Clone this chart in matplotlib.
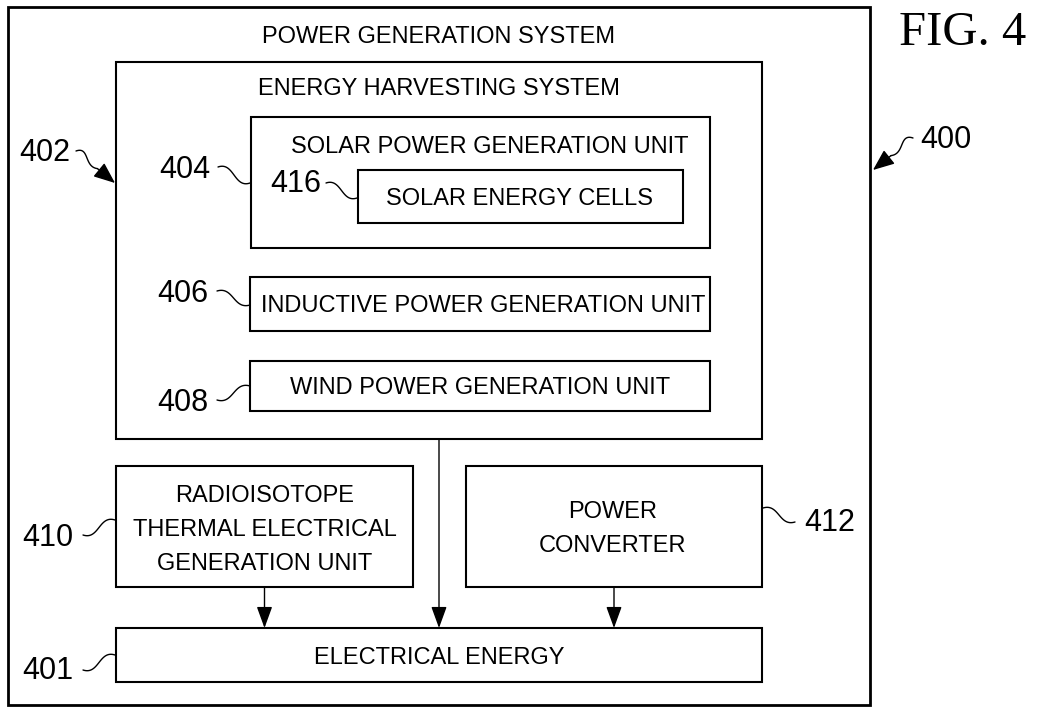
import matplotlib
matplotlib.use("Agg")
import numpy as np
import matplotlib.pyplot as plt
from matplotlib.patches import Rectangle
from matplotlib import font_manager

# ブロック図の中身（文字と符号）
box_names = ["outer", "harvest", "solar", "cells", "inductive", "wind", "rtg", "conv", "energy"]
box_texts = [
    ["POWER GENERATION SYSTEM"],
    ["ENERGY HARVESTING SYSTEM"],
    ["SOLAR POWER GENERATION UNIT"],
    ["SOLAR ENERGY CELLS"],
    ["INDUCTIVE POWER GENERATION UNIT"],
    ["WIND POWER GENERATION UNIT"],
    ["RADIOISOTOPE", "THERMAL ELECTRICAL", "GENERATION UNIT"],
    ["POWER", "CONVERTER"],
    ["ELECTRICAL ENERGY"],
]
ref_numbers = ["400", "402", "404", "416", "406", "408", "410", "412", "401"]
fig_label = "FIG. 4"

# レイアウト（ピクセル座標, 左上原点）
box_rect = {
    "outer": (8, 7, 870, 705),
    "harvest": (116, 62, 762, 439),
    "solar": (251, 117, 710, 248),
    "cells": (358, 170, 683, 223),
    "inductive": (250, 277, 710, 331),
    "wind": (250, 361, 710, 411),
    "rtg": (116, 466, 413, 587),
    "conv": (466, 466, 762, 587),
    "energy": (116, 628, 762, 682),
}
text_pos = {
    "outer": (439, [35]),
    "harvest": (439, [87]),
    "solar": (490, [145]),
    "cells": (520, [197]),
    "inductive": (483, [304]),
    "wind": (480, [386]),
    "rtg": (265, [494, 528, 562]),
    "conv": (613, [510, 544]),
    "energy": (439, [656]),
}
# 符号の位置と引出線 (文字中心, 線の始点, 線の終点, 矢印)
num_pos = {
    "400": ((946, 137), (913, 138), (873, 170), True),
    "402": ((45, 150), (76, 151), (115, 183), True),
    "404": ((185, 167), (218, 167), (250, 183), False),
    "416": ((296, 181), (326, 183), (357, 198), False),
    "406": ((183, 291), (217, 291), (250, 305), False),
    "408": ((183, 400), (217, 400), (250, 386), False),
    "410": ((48, 535), (83, 535), (115, 520), False),
    "412": ((830, 520), (795, 522), (763, 508), False),
    "401": ((48, 668), (83, 670), (115, 655), False),
}

names = {f.name for f in font_manager.fontManager.ttflist}
if "Liberation Sans Narrow" in names:
    box_font, box_size = "Liberation Sans Narrow", 20
else:
    box_font, box_size = "Liberation Sans", 17
num_font, num_size = "Liberation Sans", 22

W, H = 1051, 709
fig = plt.figure(figsize=(W / 100, H / 100), dpi=100)
ax = fig.add_axes([0, 0, 1, 1])
ax.set_xlim(0, W)
ax.set_ylim(H, 0)
ax.axis("off")


def cap_px(size):
    return 0.716 * size * 100 / 72


def put_text(x, y, s, font, size):
    # yは大文字の中心
    ax.text(x, y + cap_px(size) / 2, s, ha="center", va="baseline",
            fontsize=size, family=font, color="black")


def bezier(p0, p1, p2, p3, n=40):
    t = np.linspace(0, 1, n)[:, None]
    p0, p1, p2, p3 = map(np.asarray, (p0, p1, p2, p3))
    pts = ((1 - t) ** 3) * p0 + 3 * ((1 - t) ** 2) * t * p1 + 3 * (1 - t) * t ** 2 * p2 + t ** 3 * p3
    return pts[:, 0], pts[:, 1]


for name in box_names:
    x0, y0, x1, y1 = box_rect[name]
    lw = 2.0 if name == "outer" else 1.5
    ax.add_patch(Rectangle((x0, y0), x1 - x0, y1 - y0, fill=False,
                           edgecolor="black", linewidth=lw))

for name, lines in zip(box_names, box_texts):
    cx, ys = text_pos[name]
    for s, y in zip(lines, ys):
        put_text(cx, y, s, box_font, box_size)

for num in ref_numbers:
    (tx, ty), (sx, sy), (ex, ey), arrow = num_pos[num]
    put_text(tx, ty, num, num_font, num_size)
    dx, dy = ex - sx, ey - sy
    if arrow:
        # 矢印付きの引出線: 横に出てから斜めに下る
        hx, hy = ex - 0.45 * dx, ey - 0.45 * dy
        xs, ys = bezier((sx, sy), (sx + 0.35 * dx, sy - 0.15 * dy),
                        (sx + 0.2 * dx, sy + 0.5 * dy), (hx, hy))
        ax.plot(xs, ys, color="black", lw=1.0, solid_capstyle="round")
        ax.annotate("", xy=(ex, ey), xytext=(hx, hy),
                    arrowprops=dict(arrowstyle="-|>,head_length=1.1,head_width=0.45",
                                    mutation_scale=12, color="black", lw=1.0,
                                    shrinkA=0, shrinkB=0))
    else:
        xs, ys = bezier((sx, sy), (sx + 0.5 * dx, sy - 0.35 * dy),
                        (ex - 0.5 * dx, ey + 0.35 * dy), (ex, ey))
        ax.plot(xs, ys, color="black", lw=1.0, solid_capstyle="round")

# ブロック間の矢印
flows = [("harvest", "energy"), ("rtg", "energy"), ("conv", "energy")]
for src, dst in flows:
    sx0, _, sx1, sy1 = box_rect[src]
    xm = (sx0 + sx1) / 2
    ty0 = box_rect[dst][1]
    ax.annotate("", xy=(xm, ty0), xytext=(xm, sy1),
                arrowprops=dict(arrowstyle="-|>,head_length=1.1,head_width=0.4",
                                mutation_scale=12, color="black", lw=1.0,
                                shrinkA=0, shrinkB=0))

ax.text(963, 45, fig_label, ha="center", va="baseline", fontsize=35,
        family="Liberation Serif", color="black")

fig.savefig("out.png", dpi=100, facecolor="white")
